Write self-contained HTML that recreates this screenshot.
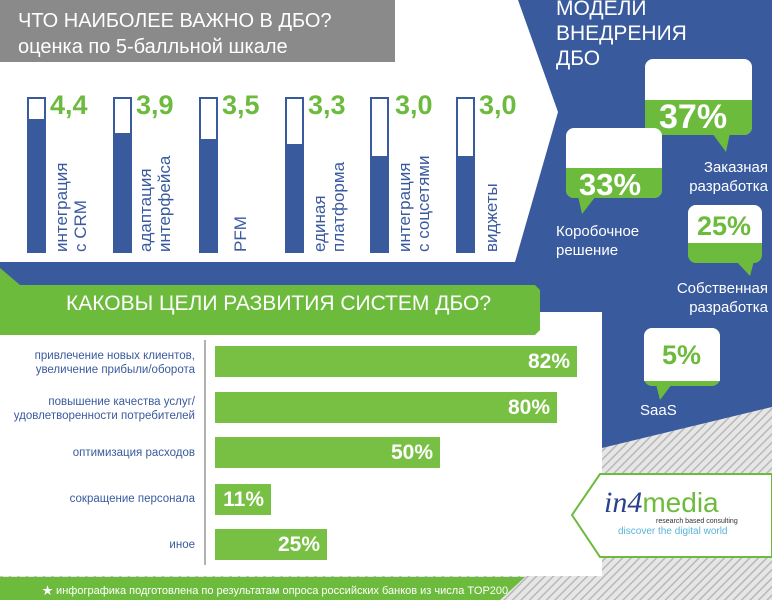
<!DOCTYPE html>
<html><head><meta charset="utf-8"><style>
body{margin:0;width:772px;height:600px;position:relative;overflow:hidden;background:#fff;font-family:"Liberation Sans","Noto Sans CJK SC",sans-serif}
.abs{position:absolute}
.vb{position:absolute;top:97px;width:15px;height:152px;border:2px solid #3a5a9e;background:#fff}
.vb i{position:absolute;left:0;right:0;bottom:0;background:#3a5a9e}
.val{position:absolute;top:90px;color:#6cba3e;font-weight:bold;font-size:27px}
.vl{position:absolute;top:252px;color:#3a5a9e;font-size:17px;line-height:19px;transform-origin:0 0;transform:rotate(-90deg);white-space:nowrap}
.lab{position:absolute;right:577px;color:#3a5a9e;font-size:11.5px;line-height:14px;text-align:right;white-space:nowrap}
.bar{position:absolute;left:215px;height:31px;background:#77c043;color:#fff;font-weight:bold;font-size:21px;line-height:31px;text-align:right;box-sizing:border-box;padding-right:7px}
.bt{position:absolute;color:#fff;font-size:15px;line-height:19px;text-align:center}
</style></head><body>
<svg class="abs" style="left:0;top:0" width="772" height="600">
<defs><pattern id="h" width="6" height="6" patternUnits="userSpaceOnUse" patternTransform="rotate(45)"><rect width="6" height="6" fill="#e6e6e6"/><rect width="1.5" height="6" fill="#b8b8b8"/></pattern></defs>
<rect width="772" height="600" fill="url(#h)"/>
<polygon points="0,0 772,0 772,407 602,448 0,448" fill="#3a5a9e"/>
<polygon points="0,0 518,0 558,112 515,262 0,262" fill="#fff"/>
<rect x="0" y="312" width="602" height="264" fill="#fff"/>
<polygon points="0,268 20,285 535,285 540,290 540,330 535,335 0,335" fill="#6dbb3d"/>
<polygon points="600,474 772,474 772,557 600,557 572,515" fill="#fff" stroke="#6dbb3d" stroke-width="2"/>
<polygon points="0,577 525,577 500,600 0,600" fill="#6dbb3d"/>
<rect x="0" y="0" width="395" height="62" fill="#8a8a8a"/>
<line x1="205" y1="340" x2="205" y2="565" stroke="#999" stroke-width="1.5"/>
<g>
<rect x="645" y="59" width="107" height="76" rx="8" fill="#fff"/>
<path d="M645,100 H752 V127 a8,8 0 0 1 -8,8 H653 a8,8 0 0 1 -8,-8 Z" fill="#6dbb3d"/>
<polygon points="712,133 730,133 726,152" fill="#6dbb3d"/>
<rect x="566" y="128" width="96" height="70" rx="8" fill="#fff"/>
<path d="M566,168 H662 V190 a8,8 0 0 1 -8,8 H574 a8,8 0 0 1 -8,-8 Z" fill="#6dbb3d"/>
<polygon points="578,196 596,196 582,214" fill="#6dbb3d"/>
<rect x="688" y="205" width="74" height="58" rx="8" fill="#6dbb3d"/>
<path d="M696,205 H754 a8,8 0 0 1 8,8 V243 H688 V213 a8,8 0 0 1 8,-8 Z" fill="#fff"/>
<polygon points="736,261 754,261 750,276" fill="#6dbb3d"/>
<rect x="644" y="328" width="76" height="58" rx="8" fill="#6dbb3d"/>
<path d="M652,328 H712 a8,8 0 0 1 8,8 V381 H644 V336 a8,8 0 0 1 8,-8 Z" fill="#fff"/>
<polygon points="656,384 672,384 660,400" fill="#6dbb3d"/>
</g>
</svg>
<div class="abs" style="left:18px;top:8px;color:#fff;font-size:20px;line-height:26px">ЧТО НАИБОЛЕЕ ВАЖНО В ДБО?<br>оценка по 5-балльной шкале</div>

<div class="vb" style="left:27px"><i style="height:132px"></i></div><div class="val" style="left:50px">4,4</div>
<div class="vl" style="left:52px">интеграция<br>с CRM</div>
<div class="vb" style="left:113px"><i style="height:118px"></i></div><div class="val" style="left:136px">3,9</div>
<div class="vl" style="left:136px">адаптация<br>интерфейса</div>
<div class="vb" style="left:199px"><i style="height:112px"></i></div><div class="val" style="left:222px">3,5</div>
<div class="vl" style="left:231px">PFM</div>
<div class="vb" style="left:285px"><i style="height:107px"></i></div><div class="val" style="left:308px">3,3</div>
<div class="vl" style="left:310px">единая<br>платформа</div>
<div class="vb" style="left:370px"><i style="height:95px"></i></div><div class="val" style="left:395px">3,0</div>
<div class="vl" style="left:395px">интеграция<br>с соцсетями</div>
<div class="vb" style="left:456px"><i style="height:95px"></i></div><div class="val" style="left:479px">3,0</div>
<div class="vl" style="left:482px">виджеты</div>

<div class="abs" style="left:556px;top:-4px;color:#fff;font-size:21px;line-height:25px">МОДЕЛИ<br>ВНЕДРЕНИЯ<br>ДБО</div>
<div class="abs" style="left:659px;top:98px;color:#fff;font-weight:bold;font-size:34px">37%</div>
<div class="bt" style="left:662px;top:158px;text-align:right;width:106px">Заказная<br>разработка</div>
<div class="abs" style="left:579px;top:167px;color:#fff;font-weight:bold;font-size:31px">33%</div>
<div class="bt" style="left:556px;top:222px;text-align:left">Коробочное<br>решение</div>
<div class="abs" style="left:697px;top:211px;color:#6dbb3d;font-weight:bold;font-size:27px">25%</div>
<div class="bt" style="left:660px;top:279px;text-align:right;width:108px">Собственная<br>разработка</div>
<div class="abs" style="left:662px;top:340px;color:#6dbb3d;font-weight:bold;font-size:27px">5%</div>
<div class="bt" style="left:640px;top:401px">SaaS</div>

<div class="abs" style="left:66px;top:292px;color:#fff;font-size:21px">КАКОВЫ ЦЕЛИ РАЗВИТИЯ СИСТЕМ ДБО?</div>
<div class="lab" style="top:349px">привлечение новых клиентов,<br>увеличение прибыли/оборота</div>
<div class="lab" style="top:395px">повышение качества услуг/<br>удовлетворенности потребителей</div>
<div class="lab" style="top:446px">оптимизация расходов</div>
<div class="lab" style="top:492px">сокращение персонала</div>
<div class="lab" style="top:538px">иное</div>
<div class="bar" style="top:346px;width:362px">82%</div>
<div class="bar" style="top:392px;width:342px">80%</div>
<div class="bar" style="top:437px;width:225px">50%</div>
<div class="bar" style="top:484px;width:56px">11%</div>
<div class="bar" style="top:529px;width:112px">25%</div>

<div class="abs" style="left:604px;top:486px;color:#2b3f8f;font-size:30px;font-style:italic;font-family:'Liberation Serif',serif">in4<span style="font-style:normal;font-family:'Liberation Sans',sans-serif;color:#6dbb3d;font-size:28px">media</span></div>
<div class="abs" style="left:656px;top:518px;color:#333;font-size:7px">research based consulting</div>
<div class="abs" style="left:618px;top:526px;color:#5ab4d8;font-size:10px">discover the digital world</div>
<div class="abs" style="left:42px;top:582px;color:#fff;font-size:11px">★ инфографика подготовлена по результатам опроса российских банков из числа TOP200</div>
</body></html>
